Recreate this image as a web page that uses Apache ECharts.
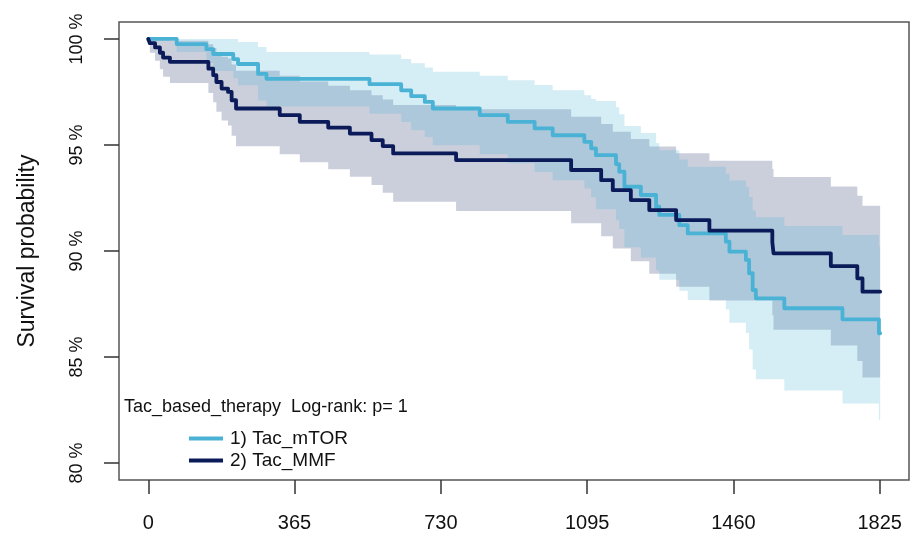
<!DOCTYPE html>
<html>
<head>
<meta charset="utf-8">
<script src="https://cdn.jsdelivr.net/npm/echarts@6/dist/echarts.min.js"></script>
<style>
  html, body { margin: 0; padding: 0; background: #fff; }
  #chart { width: 924px; height: 537px; }
</style>
</head>
<body>
<div id="chart"></div>
<script>
// Kaplan-Meier estimates (percent) with 95% confidence limits, by therapy group.
// Each value holds from its time until the next time (step curve).
const xTicks = [0, 365, 730, 1095, 1460, 1825];
const yTicks = [80, 85, 90, 95, 100];

const mtorTime  = [0, 71, 145, 162, 212, 224, 274, 295, 552, 631, 656, 690, 710, 827, 897, 964, 1009, 1088, 1105, 1117, 1167, 1175, 1188, 1229, 1267, 1275, 1325, 1346, 1441, 1450, 1491, 1499, 1508, 1516, 1587, 1732, 1823, 1826];
const mtorSurv  = [100, 99.76, 99.52, 99.29, 99.05, 98.82, 98.35, 98.12, 97.87, 97.58, 97.30, 97.03, 96.72, 96.41, 96.09, 95.78, 95.46, 95.15, 94.84, 94.52, 94.10, 93.74, 93.03, 92.64, 92.09, 91.70, 91.22, 90.83, 90.44, 89.97, 89.58, 88.95, 88.16, 87.77, 87.30, 86.78, 86.12, 86.12];
const mtorUpper = [100, 100, 100, 100, 100, 99.86, 99.62, 99.39, 99.27, 99.05, 98.85, 98.65, 98.45, 98.27, 98.05, 97.83, 97.58, 97.35, 97.17, 97.07, 96.78, 96.45, 95.90, 95.57, 95.09, 94.75, 94.32, 93.97, 93.64, 93.32, 93.03, 92.55, 91.91, 91.59, 91.18, 90.75, 90.22, 90.22];
const mtorLower = [100, 99.39, 98.87, 98.49, 98.15, 97.82, 97.10, 96.82, 96.47, 96.08, 95.70, 95.38, 94.99, 94.56, 94.14, 93.73, 93.34, 92.95, 92.54, 91.97, 91.45, 91.04, 90.18, 89.69, 89.09, 88.65, 88.12, 87.69, 87.24, 86.62, 86.13, 85.35, 84.41, 83.95, 83.42, 82.81, 82.04, 82.04];

const mmfTime  = [0, 4, 17, 29, 37, 54, 150, 162, 170, 183, 199, 208, 219, 328, 378, 449, 503, 557, 585, 611, 768, 1055, 1130, 1159, 1204, 1250, 1317, 1400, 1557, 1560, 1703, 1769, 1782, 1826];
const mmfSurv  = [100, 99.80, 99.60, 99.35, 99.12, 98.92, 98.60, 98.29, 97.97, 97.66, 97.50, 97.11, 96.72, 96.41, 96.09, 95.82, 95.54, 95.23, 94.95, 94.60, 94.29, 93.82, 93.34, 92.87, 92.40, 91.93, 91.46, 90.96, 90.42, 89.89, 89.29, 88.71, 88.08, 88.08];
const mmfUpper = [100, 100, 100, 100, 100, 99.92, 99.75, 99.57, 99.37, 99.16, 99.08, 98.79, 98.50, 98.26, 97.99, 97.79, 97.58, 97.35, 97.15, 96.88, 96.69, 96.33, 95.99, 95.62, 95.28, 94.93, 94.61, 94.26, 93.87, 93.49, 93.04, 92.61, 92.13, 92.13];
const mmfLower = [100, 99.35, 98.97, 98.57, 98.22, 97.92, 97.45, 97.01, 96.57, 96.16, 95.92, 95.43, 94.94, 94.56, 94.19, 93.85, 93.50, 93.11, 92.75, 92.32, 91.89, 91.31, 90.69, 90.12, 89.52, 88.93, 88.31, 87.66, 86.97, 86.29, 85.54, 84.81, 84.03, 84.03];

const groupNames = ['1) Tac_mTOR', '2) Tac_MMF'];
const legendTitle = 'Tac_based_therapy  Log-rank: p= 1';
const yTitle = 'Survival probability';

const FONT = '"Liberation Sans", Arial, sans-serif';
const C_MTOR = '#4AB2D5';
const C_MMF = '#0B1B5A';

const pairs = (xs, ys) => xs.map((x, i) => [x, ys[i]]);

// Confidence band as one stepped polygon: upper limits left to right,
// then lower limits right to left.
function bandSeries(name, times, lower, upper, fill) {
  return {
    name, type: 'custom', silent: true, clip: true, z: 1,
    data: times.map((t, i) => [t, lower[i], upper[i]]),
    encode: { x: 0, y: [1, 2] },
    renderItem(params, api) {
      if (params.dataIndexInside !== 0) return null;
      const n = params.dataInsideLength;
      const top = [], bot = [];
      for (let i = 0; i < n; i++) {
        const t0 = api.value(0, i);
        const t1 = i < n - 1 ? api.value(0, i + 1) : t0;
        const lo = api.value(1, i), hi = api.value(2, i);
        top.push(api.coord([t0, hi]), api.coord([t1, hi]));
        bot.push(api.coord([t0, lo]), api.coord([t1, lo]));
      }
      return {
        type: 'polygon',
        shape: { points: top.concat(bot.reverse()) },
        style: { fill }
      };
    }
  };
}

function survSeries(name, times, surv, color) {
  return {
    name, type: 'line', step: 'end', symbol: 'none', silent: true,
    data: pairs(times, surv), z: 3,
    itemStyle: { color },
    lineStyle: { color, width: 3.8, cap: 'round', join: 'round' },
    emphasis: { disabled: true }
  };
}

const chart = echarts.init(document.getElementById('chart'), null, { renderer: 'canvas' });
chart.setOption({
  animation: false,
  backgroundColor: '#ffffff',
  title: {
    text: legendTitle, left: 119, top: 393,
    textStyle: { fontFamily: FONT, fontSize: 18, fontWeight: 'normal', color: '#111' }
  },
  legend: {
    data: groupNames, orient: 'vertical', left: 184, top: 424,
    icon: 'rect', itemWidth: 34, itemHeight: 4, itemGap: 3, selectedMode: false,
    textStyle: { fontFamily: FONT, fontSize: 19, color: '#111', padding: [0, 0, 0, 2] }
  },
  grid: {
    left: 119, right: 15, top: 22, bottom: 57, show: true,
    borderColor: '#555', borderWidth: 1.5, backgroundColor: 'transparent'
  },
  xAxis: {
    type: 'value', min: -73, max: 1898,
    axisLine: { show: false, onZero: false },
    splitLine: { show: false },
    axisTick: { show: true, customValues: xTicks, length: 14, lineStyle: { color: '#333', width: 1.5 } },
    axisLabel: { customValues: xTicks, margin: 33, formatter: v => String(v),
      fontFamily: FONT, fontSize: 20, color: '#111' }
  },
  yAxis: {
    type: 'value', min: 79.2, max: 100.8,
    name: yTitle, nameLocation: 'middle', nameGap: 80, nameRotate: 90,
    nameTextStyle: { fontFamily: FONT, fontSize: 23, color: '#111' },
    axisLine: { show: false, onZero: false },
    splitLine: { show: false },
    axisTick: { show: true, customValues: yTicks, length: 15, lineStyle: { color: '#333', width: 1.5 } },
    axisLabel: { customValues: yTicks, rotate: 90, margin: 33, formatter: '{value} %',
      fontFamily: FONT, fontSize: 18, color: '#111' }
  },
  series: [
    bandSeries('mmf band', mmfTime, mmfLower, mmfUpper, 'rgba(11,27,90,0.21)'),
    bandSeries('mtor band', mtorTime, mtorLower, mtorUpper, 'rgba(74,178,213,0.23)'),
    survSeries(groupNames[0], mtorTime, mtorSurv, C_MTOR),
    survSeries(groupNames[1], mmfTime, mmfSurv, C_MMF)
  ]
});
</script>
</body>
</html>
